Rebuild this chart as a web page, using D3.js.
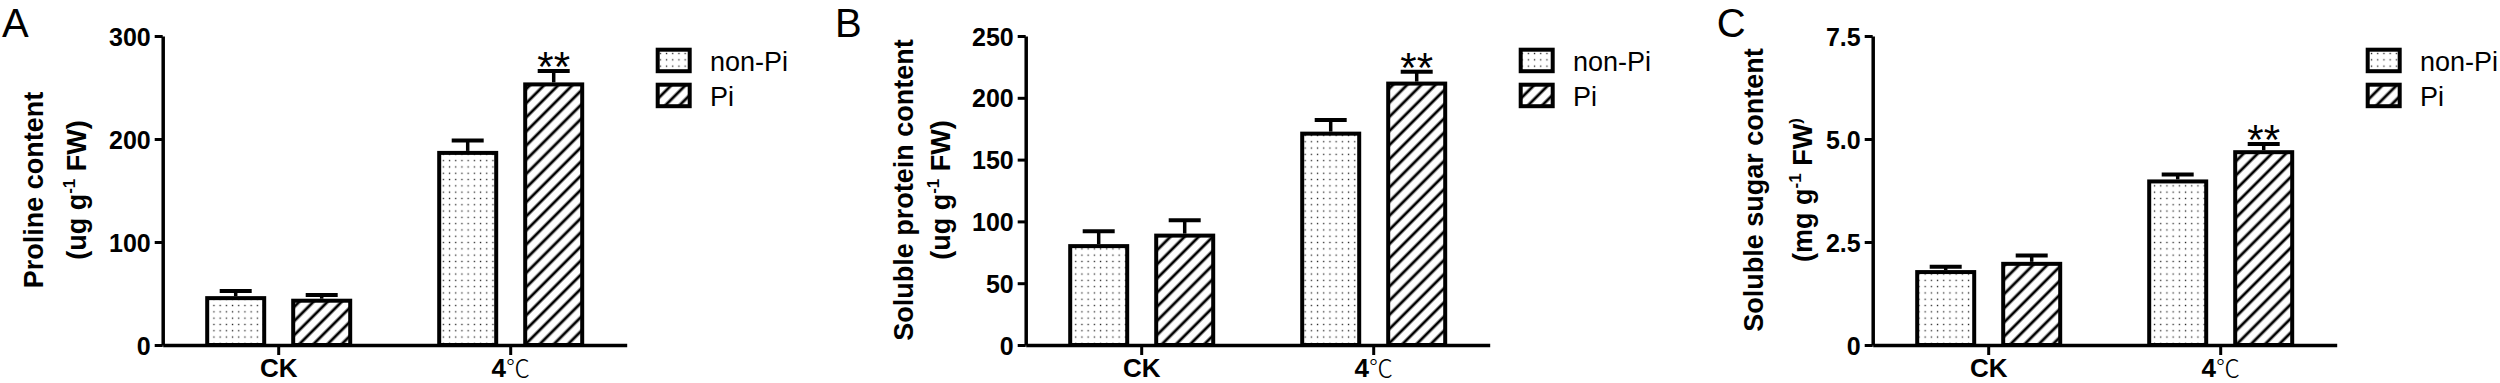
<!DOCTYPE html>
<html>
<head>
<meta charset="utf-8">
<title>Proline, soluble protein and soluble sugar content</title>
<script src="https://d3js.org/d3.v7.min.js"></script>
<style>
  body { margin: 0; background: #fff; }
  text { font-family: "Liberation Sans", Arial, sans-serif; fill: #000; }
</style>
</head>
<body>
<div id="chart"></div>
<script>

// ---- data ----
var groups = ["CK", "4℃"];
var treatments = ["non-Pi", "Pi"];

var prolineNonPi = [45.5, 186.5];
var prolinePi = [43, 253];
var prolineNonPiErr = [7, 12];
var prolinePiErr = [5.5, 13];

var proteinNonPi = [80, 171];
var proteinPi = [88.5, 211.5];
var proteinNonPiErr = [12, 11];
var proteinPiErr = [12.5, 9.5];

var sugarNonPi = [1.77, 3.97];
var sugarPi = [1.97, 4.68];
var sugarNonPiErr = [0.13, 0.17];
var sugarPiErr = [0.2, 0.2];

var prolineTicks = [0, 100, 200, 300];
var proteinTicks = [0, 50, 100, 150, 200, 250];
var sugarTicks = [0, 2.5, 5.0, 7.5];
var sugarTickLabels = ["0", "2.5", "5.0", "7.5"];

// "**" marks: [group][treatment]
var prolineStars = [["", ""], ["", "**"]];
var proteinStars = [["", ""], ["", "**"]];
var sugarStars = [["", ""], ["", "**"]];

var panelLetters = ["A", "B", "C"];
var titleLine1 = ["Proline content", "Soluble protein content", "Soluble sugar content"];
var unitPrefix = ["(ug g", "(ug g", "(mg g"];

// ---- layout ----
var width = 2500, height = 383;
var yBase = 345, yTop = 36, plotW = 464;
var barW = 57, barOffset = 43;

var layout = [
    { left: 162.7, letterX: 2, letterY: 36.5, t1: 43, t2: 86.4, supParen: false },
    { left: 1025.7, letterX: 835, letterY: 36.5, t1: 913, t2: 949.7, supParen: false },
    { left: 1872.7, letterX: 1716.7, letterY: 36.5, t1: 1763, t2: 1811.7, supParen: true }
];

var panels = [
    { nonPi: prolineNonPi, pi: prolinePi, nonPiErr: prolineNonPiErr, piErr: prolinePiErr,
      ticks: prolineTicks, labels: prolineTicks.map(String), max: 300, stars: prolineStars },
    { nonPi: proteinNonPi, pi: proteinPi, nonPiErr: proteinNonPiErr, piErr: proteinPiErr,
      ticks: proteinTicks, labels: proteinTicks.map(String), max: 250, stars: proteinStars },
    { nonPi: sugarNonPi, pi: sugarPi, nonPiErr: sugarNonPiErr, piErr: sugarPiErr,
      ticks: sugarTicks, labels: sugarTickLabels, max: 7.5, stars: sugarStars }
];

var svg = d3.select("#chart")
    .append("svg")
    .attr("width", width)
    .attr("height", height)
    .style("display", "block");

// fill patterns
var defs = svg.append("defs");
var dots = defs.append("pattern")
    .attr("id", "dots")
    .attr("patternUnits", "userSpaceOnUse")
    .attr("width", 6.2)
    .attr("height", 6.3);
dots.append("rect").attr("width", 6.2).attr("height", 6.3).attr("fill", "#fff");
dots.append("rect").attr("x", 2.5).attr("y", 2.5).attr("width", 1.3).attr("height", 1.3).attr("fill", "#222");

var hatch = defs.append("pattern")
    .attr("id", "hatch")
    .attr("patternUnits", "userSpaceOnUse")
    .attr("width", 10)
    .attr("height", 10)
    .attr("patternTransform", "rotate(45)");
hatch.append("rect").attr("width", 10).attr("height", 10).attr("fill", "#fff");
hatch.append("rect").attr("x", 3.6).attr("width", 2.8).attr("height", 10).attr("fill", "#000");

var fills = { "non-Pi": "url(#dots)", "Pi": "url(#hatch)" };

panels.forEach(function(p, i) {
    var L = layout[i];
    var g = svg.append("g");

    var y = d3.scaleLinear().domain([0, p.max]).range([yBase, yTop]);
    var x0 = d3.scaleBand().domain(groups)
        .range([L.left, L.left + plotW])
        .padding(0);
    var x1 = d3.scalePoint().domain(treatments).range([-barOffset, barOffset]);

    var rows = [];
    groups.forEach(function(grp, gi) {
        rows.push({ group: grp, t: "non-Pi", v: p.nonPi[gi], e: p.nonPiErr[gi], star: p.stars[gi][0] });
        rows.push({ group: grp, t: "Pi", v: p.pi[gi], e: p.piErr[gi], star: p.stars[gi][1] });
    });
    function cx(d) { return x0(d.group) + x0.bandwidth() / 2 + x1(d.t); }

    // bars
    g.selectAll(".bar")
        .data(rows)
        .enter()
        .append("rect")
        .attr("class", "bar")
        .attr("x", function(d) { return cx(d) - barW / 2; })
        .attr("y", function(d) { return y(d.v); })
        .attr("width", barW)
        .attr("height", function(d) { return yBase - y(d.v); })
        .attr("fill", function(d) { return fills[d.t]; })
        .attr("stroke", "#000")
        .attr("stroke-width", 4);

    // error bars (upper only)
    g.selectAll(".err")
        .data(rows)
        .enter()
        .append("line")
        .attr("x1", cx).attr("x2", cx)
        .attr("y1", function(d) { return y(d.v) - 2; })
        .attr("y2", function(d) { return y(d.v + d.e); })
        .attr("stroke", "#000").attr("stroke-width", 3.5);
    g.selectAll(".cap")
        .data(rows)
        .enter()
        .append("line")
        .attr("x1", function(d) { return cx(d) - 16; })
        .attr("x2", function(d) { return cx(d) + 16; })
        .attr("y1", function(d) { return y(d.v + d.e); })
        .attr("y2", function(d) { return y(d.v + d.e); })
        .attr("stroke", "#000").attr("stroke-width", 4);

    // significance
    g.selectAll(".star")
        .data(rows.filter(function(d) { return d.star; }))
        .enter()
        .append("text")
        .attr("x", cx)
        .attr("y", function(d) { return y(d.v + d.e) + 10; })
        .attr("text-anchor", "middle")
        .style("font-size", "42px")
        .text(function(d) { return d.star; });

    // axes
    var yAxis = d3.axisLeft(y)
        .tickValues(p.ticks)
        .tickFormat(function(d, k) { return p.labels[k]; })
        .tickSize(8).tickSizeOuter(0).tickPadding(4);
    var yg = g.append("g")
        .attr("transform", "translate(" + L.left + ",0)")
        .call(yAxis);

    var xAxis = d3.axisBottom(x0).tickSize(10).tickSizeOuter(0).tickPadding(6);
    var xg = g.append("g")
        .attr("transform", "translate(0," + yBase + ")")
        .call(xAxis);

    [yg, xg].forEach(function(ax) {
        ax.select(".domain").attr("stroke-width", 3.5);
        ax.selectAll(".tick line").attr("stroke-width", 3);
        ax.selectAll(".tick text")
            .style("font-family", "'Liberation Sans', Arial, sans-serif")
            .style("font-weight", "bold")
            .style("font-size", "25px");
    });
    yg.selectAll(".tick text").attr("dy", "0.36em");

    xg.selectAll(".tick text")
        .style("font-size", "26px")
        .attr("dy", "0.6em")
        .each(function(d) {
            var t = d3.select(this).text("");
            if (d === "4℃") {
                t.append("tspan").text("4");
                t.append("tspan")
                    .style("font-family", "'Noto Sans CJK SC', sans-serif")
                    .style("font-weight", "300")
                    .style("font-size", "24px")
                    .text("℃");
            } else {
                t.text(d);
            }
        });

    // panel letter
    svg.append("text")
        .attr("x", L.letterX)
        .attr("y", L.letterY)
        .style("font-size", "40px")
        .text(panelLetters[i]);

    // y title
    svg.append("text")
        .attr("transform", "translate(" + L.t1 + ",190) rotate(-90)")
        .attr("text-anchor", "middle")
        .style("font-size", "27px")
        .style("font-weight", "bold")
        .text(titleLine1[i]);

    var t2 = svg.append("text")
        .attr("transform", "translate(" + L.t2 + ",190) rotate(-90)")
        .attr("text-anchor", "middle")
        .style("font-size", "27px")
        .style("font-weight", "bold");
    t2.append("tspan").text(unitPrefix[i]);
    t2.append("tspan").attr("dy", -11).style("font-size", "17px").text("-1");
    if (L.supParen) {
        t2.append("tspan").attr("dy", 11).text(" FW");
        t2.append("tspan").attr("dy", -11).style("font-size", "17px").text(")");
    } else {
        t2.append("tspan").attr("dy", 11).text(" FW)");
    }

    // legend
    var lx = L.left + 495;
    var leg = svg.append("g");
    treatments.forEach(function(t, k) {
        leg.append("rect")
            .attr("x", lx)
            .attr("y", k === 0 ? 49.7 : 84.7)
            .attr("width", 32)
            .attr("height", 21.5)
            .attr("fill", fills[t])
            .attr("stroke", "#000")
            .attr("stroke-width", 4);
        leg.append("text")
            .attr("x", L.left + 547.3)
            .attr("y", k === 0 ? 70.7 : 106)
            .style("font-size", "27px")
            .text(t);
    });
});

</script>
</body>
</html>
